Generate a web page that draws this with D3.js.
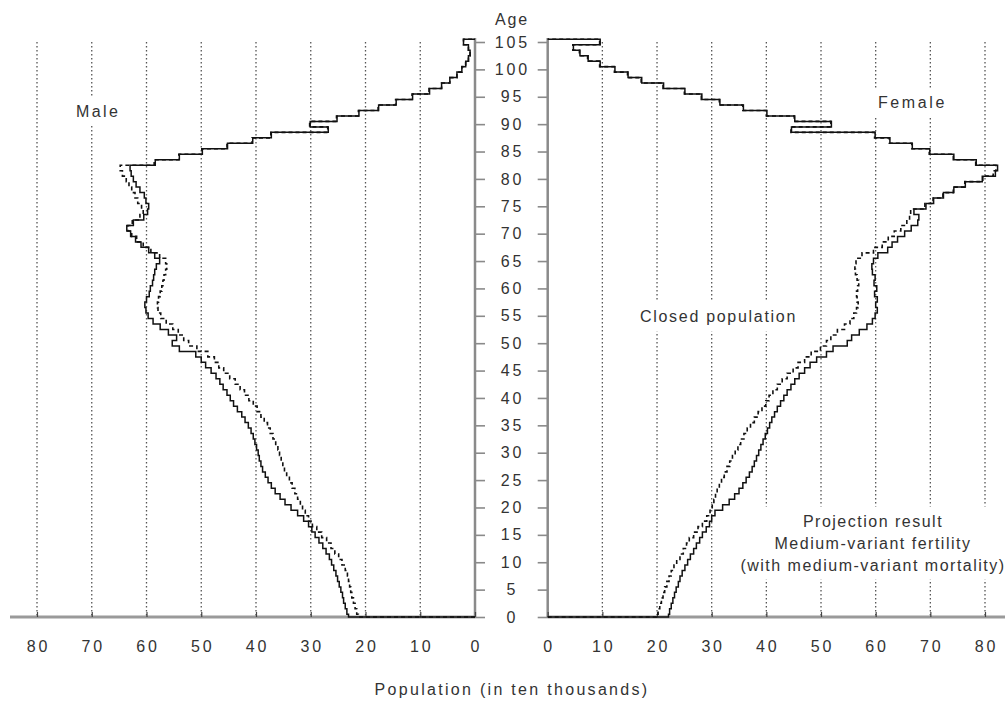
<!DOCTYPE html>
<html>
<head>
<meta charset="utf-8">
<script src="https://cdn.jsdelivr.net/npm/d3@7"></script>
<style>
  body { margin: 0; background: #fff; }
  svg { display: block; }
  text { font-family: "Liberation Sans", Arial, Helvetica, sans-serif; fill: #333; }
</style>
</head>
<body>
<svg id="chart" width="1005" height="702"></svg>
<script>
// Single-year ages 0..105 (105 = 105 and over)
const ages = d3.range(0, 106);
const ageTicks = d3.range(0, 106, 5);
const popTicks = [0, 10, 20, 30, 40, 50, 60, 70, 80];

// Population in ten thousands, male, projection result (solid)
const maleProjection = [
  23.1,23.4,23.7,24.0,24.2,24.5,24.8,25.1,25.4,25.8,
  26.2,26.6,27.2,27.8,28.5,29.2,29.8,30.4,31.3,32.4,
  33.6,34.7,35.6,36.5,37.2,37.8,38.3,38.8,39.1,39.4,
  39.6,39.9,40.2,40.5,40.9,41.4,42.0,42.6,43.4,44.1,
  44.7,45.3,46.0,46.6,47.3,48.2,49.2,50.0,51.0,54.0,
  55.3,54.5,56.0,57.5,58.8,59.7,60.1,60.3,60.0,59.5,
  59.3,58.9,58.7,58.5,58.2,57.6,58.5,59.6,61.0,62.0,
  62.9,63.6,62.4,60.5,59.8,59.6,60.1,60.4,61.2,61.9,
  62.4,62.8,63.0,58.4,54.0,49.8,45.2,40.6,37.2,26.8,
  30.1,25.2,21.2,17.6,14.4,11.4,8.3,6.1,4.6,3.3,
  2.4,1.7,1.2,0.9,1.2,2.1
];
// Male, closed population (dashed)
const maleClosed = [
  21.3,21.6,21.9,22.2,22.5,22.7,22.9,23.1,23.3,23.7,
  24.3,24.9,25.6,26.3,27.1,28.0,28.9,29.7,30.4,31.0,
  31.5,31.9,32.4,32.9,33.4,33.9,34.4,34.8,35.1,35.4,
  35.7,36.0,36.4,36.9,37.4,37.9,38.5,39.1,39.8,40.5,
  41.3,42.1,42.9,43.8,44.8,45.9,46.8,47.6,48.8,50.8,
  52.3,53.2,54.2,55.2,56.4,57.4,57.9,58.0,57.8,57.5,
  57.2,57.0,56.8,56.5,56.3,56.5,57.6,59.2,60.6,61.8,
  62.7,63.4,62.6,61.2,60.6,60.9,61.6,62.1,62.7,63.2,
  63.7,64.4,64.8,58.6,54.1,49.9,45.3,40.7,37.3,26.9,
  30.2,25.3,21.3,17.7,14.5,11.5,8.4,6.1,4.6,3.3,
  2.4,1.7,1.2,0.9,1.2,2.1
];
// Female, projection result (solid)
const femaleProjection = [
  22.1,22.3,22.6,22.9,23.2,23.5,23.9,24.2,24.6,25.1,
  25.6,26.1,26.7,27.2,27.8,28.3,29.0,29.6,30.0,30.6,
  32.0,33.2,34.2,35.0,35.7,36.3,36.9,37.4,37.8,38.2,
  38.6,39.0,39.4,39.8,40.2,40.6,41.0,41.5,42.0,42.6,
  43.2,43.8,44.5,45.2,46.0,47.0,48.0,49.2,51.0,52.2,
  54.8,55.6,57.0,58.4,59.4,59.9,60.3,60.0,60.3,59.8,
  60.2,59.7,59.9,59.4,59.3,59.6,60.4,62.2,63.0,64.0,
  65.3,66.5,67.7,67.9,67.0,69.2,70.6,72.4,74.3,76.4,
  79.5,81.9,82.3,78.4,74.3,69.9,66.7,62.6,59.9,44.6,
  51.9,45.2,40.1,35.8,31.5,28.2,25.1,21.2,17.2,14.7,
  12.3,9.6,7.4,5.9,4.7,9.6
];
// Female, closed population (dashed)
const femaleClosed = [
  19.9,20.2,20.5,20.8,21.1,21.4,21.8,22.2,22.6,23.1,
  23.6,24.2,24.8,25.4,25.9,26.7,27.5,28.3,29.1,29.7,
  30.1,30.4,30.7,31.0,31.4,31.8,32.3,32.8,33.3,33.8,
  34.3,34.8,35.3,35.9,36.5,37.1,37.8,38.5,39.2,39.9,
  40.5,41.2,42.0,42.9,43.8,44.9,45.8,47.0,48.2,49.9,
  51.0,51.8,53.0,54.3,55.3,56.0,56.5,56.8,56.6,56.5,
  56.7,56.9,56.6,56.3,56.2,56.4,57.5,59.6,61.2,62.3,
  63.4,64.6,65.7,66.2,66.4,69.0,70.5,72.3,74.2,76.3,
  79.6,81.5,82.0,78.3,74.2,69.8,66.6,62.5,59.8,44.5,
  51.8,45.1,40.0,35.7,31.4,28.1,25.0,21.1,17.1,14.6,
  12.2,9.5,7.3,5.8,4.6,9.5
];

const svg = d3.select("#chart");

const y = d3.scaleLinear().domain([0, 105]).range([617, 42]);
const xMale = d3.scaleLinear().domain([0, 80]).range([475, 37]);
const xFemale = d3.scaleLinear().domain([0, 80]).range([547.7, 985]);
const labelX = 511;

// dotted vertical gridlines
const grid = svg.append("g");
[xMale, xFemale].forEach(sc => {
  grid.selectAll(null).data(popTicks.filter(d => d > 0)).enter().append("line")
    .attr("x1", d => sc(d)).attr("x2", d => sc(d))
    .attr("y1", y(105)).attr("y2", y(0))
    .attr("stroke", "#555").attr("stroke-width", 1.3)
    .attr("stroke-dasharray", "1.6,2.4");
});

// panel labels sitting on white boxes that break the gridlines
const notes = svg.append("g");
function note(lines, x, y0, dy, anchor, ls, padX, padY) {
  const g = notes.append("g");
  const rect = g.append("rect").attr("fill", "#fff");
  const t = g.append("text").attr("font-size", 16).attr("text-anchor", anchor)
    .style("letter-spacing", ls + "px");
  lines.forEach((s, i) => t.append("tspan").attr("x", x).attr("y", y0 + i * dy).text(s));
  const b = t.node().getBBox();
  rect.attr("x", b.x - padX).attr("y", b.y - padY)
    .attr("width", b.width + 2 * padX).attr("height", b.height + 2 * padY);
}
note(["Male"], 76, 117, 0, "start", 2.4, 5, 5);
note(["Female"], 878, 108, 0, "start", 2.6, 5, 5);
note(["Closed population"], 640, 321.5, 0, "start", 1.7, 4, 7);
note(["Projection result", "Medium-variant fertility", "(with medium-variant mortality)"],
     873, 526.5, 22, "middle", 1.5, 4, 6);

// axis lines
const axisCol = "#8a8a8a";
svg.append("line").attr("x1", 10).attr("x2", xMale(0)).attr("y1", y(0)).attr("y2", y(0))
  .attr("stroke", "#9a9a9a").attr("stroke-width", 3);
svg.append("line").attr("x1", xFemale(0)).attr("x2", 1005).attr("y1", y(0)).attr("y2", y(0))
  .attr("stroke", "#9a9a9a").attr("stroke-width", 3);
svg.append("line").attr("x1", xMale(0)).attr("x2", xMale(0)).attr("y1", 38).attr("y2", y(0))
  .attr("stroke", axisCol).attr("stroke-width", 2.5);
svg.append("line").attr("x1", xFemale(0)).attr("x2", xFemale(0)).attr("y1", 38).attr("y2", y(0))
  .attr("stroke", axisCol).attr("stroke-width", 2.5);

// age ticks, pointing inward from both axes
const ageAxisL = d3.axisRight(y).tickValues(ageTicks).tickSize(10).tickFormat("");
const ageAxisR = d3.axisLeft(y).tickValues(ageTicks).tickSize(10).tickFormat("");
[[ageAxisL, xMale(0)], [ageAxisR, xFemale(0)]].forEach(([ax, x0]) => {
  const g = svg.append("g").attr("transform", `translate(${x0},0)`).call(ax);
  g.select(".domain").remove();
  g.selectAll(".tick line").attr("stroke", axisCol).attr("stroke-width", 1.6);
});

// age labels in the centre column
svg.append("g").selectAll("text").data(ageTicks).enter().append("text")
  .attr("x", labelX + 1.4).attr("y", d => y(d) + 5.6)
  .attr("text-anchor", "middle").attr("font-size", 16)
  .style("letter-spacing", "2.8px").text(d => d);
svg.append("text").attr("x", labelX + 1).attr("y", 25).attr("text-anchor", "middle")
  .attr("font-size", 16).style("letter-spacing", "1.8px").text("Age");

// population axes
[xMale, xFemale].forEach(sc => {
  const ax = d3.axisTop(sc).tickValues(popTicks).tickSize(5).tickFormat("");
  const g = svg.append("g").attr("transform", `translate(0,${y(0)})`).call(ax);
  g.select(".domain").remove();
  g.selectAll(".tick line").attr("stroke", "#444").attr("stroke-width", 1.2);
  svg.append("g").selectAll("text").data(popTicks).enter().append("text")
    .attr("x", d => sc(d) + 1.4).attr("y", 652).attr("text-anchor", "middle")
    .attr("font-size", 16).style("letter-spacing", "2.8px").text(d => d);
});

svg.append("text").attr("x", labelX + 1).attr("y", 695).attr("text-anchor", "middle")
  .attr("font-size", 16).style("letter-spacing", "2.3px")
  .text("Population (in ten thousands)");

// step outlines: each age spans age-0.5 .. age+0.5, closed back to the axis
function stepPoints(vals) {
  const pts = [[0, 0], [vals[0], 0]];
  vals.forEach((v, i) => {
    const next = i + 1 < vals.length ? vals[i + 1] : 0;
    pts.push([v, i + 0.5]);
    pts.push([next, i + 0.5]);
  });
  return pts;
}
function drawStep(sc, vals, dashed) {
  const line = d3.line().x(d => sc(d[0])).y(d => y(d[1]));
  svg.append("path").attr("d", line(stepPoints(vals)))
    .attr("fill", "none").attr("stroke", "#111")
    .attr("stroke-width", dashed ? 1.6 : 1.5)
    .attr("stroke-linejoin", "miter")
    .attr("stroke-dasharray", dashed ? "4,3" : null);
}
drawStep(xMale, maleClosed, true);
drawStep(xMale, maleProjection, false);
drawStep(xFemale, femaleClosed, true);
drawStep(xFemale, femaleProjection, false);
</script>
</body>
</html>
